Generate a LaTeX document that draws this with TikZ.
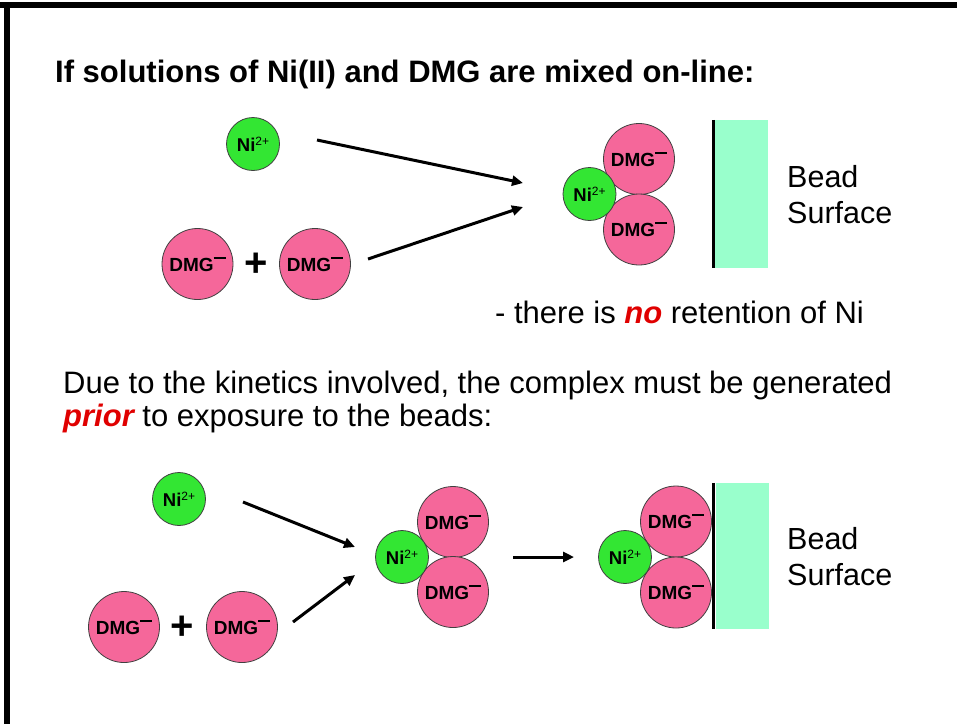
\documentclass[tikz,border=0pt]{standalone}
\usepackage{fontspec}
\setmainfont{Liberation Sans}
\usetikzlibrary{arrows.meta}
\definecolor{nigreen}{HTML}{33E633}
\definecolor{dmgpink}{HTML}{F5679A}
\definecolor{beadcol}{HTML}{99FFCC}
\definecolor{emphred}{HTML}{E00000}
\newcommand{\niLabel}{{\fontsize{18.5}{18}\selectfont\bfseries Ni}{\fontsize{12}{12}\selectfont\raisebox{6pt}{2+}}}
\newcommand{\dmgLabel}{{\fontsize{19}{19}\selectfont\bfseries DMG}\rule[12.5pt]{12pt}{2pt}}
\begin{document}
\begin{tikzpicture}[x=1pt,y=-1pt,
  nibead/.style={circle, fill=nigreen, draw=black!75, line width=0.8pt, minimum size=53pt, inner sep=0pt},
  dmgbead/.style={circle, fill=dmgpink, draw=black!75, line width=0.8pt, minimum size=71pt, inner sep=0pt},
  bodytext/.style={anchor=base west, inner sep=0pt, font=\fontsize{31}{37}\selectfont},
  beadtext/.style={anchor=base west, inner sep=0pt, font=\fontsize{30.5}{36}\selectfont},
  plussign/.style={inner sep=0pt, font=\fontsize{40}{40}\selectfont\bfseries},
  arr/.style={line width=3pt, -{Triangle[length=11pt,width=10pt]}},
  surf/.style={fill=beadcol, draw=none, minimum width=53pt, minimum height=148pt, inner sep=0pt}]
\useasboundingbox (0,0) rectangle (957,724);
\fill[white] (0,0) rectangle (957,724);
\fill[black] (0,2) rectangle (957,8);
\fill[black] (4,2) rectangle (10,724);

% texts
\node[bodytext, font=\fontsize{31}{37}\selectfont\bfseries] (t1) at (55,82) {If solutions of Ni(II) and DMG are mixed on-line:};
\node[bodytext] (t2) at (495,323) {- there is {\color{emphred}\bfseries\itshape no} retention of Ni};
\node[bodytext] (t3) at (63,393) {Due to the kinetics involved, the complex must be generated};
\node[bodytext] (t4) at (63,426) {{\color{emphred}\bfseries\itshape prior} to exposure to the beads:};

% ---------- top scheme ----------
\node[nibead] (niA) at (253,144) {\niLabel};
\node[dmgbead] (dA1) at (197.5,264) {\dmgLabel};
\node[plussign] (pA) at (256,265) {+};
\node[dmgbead] (dA2) at (315,264) {\dmgLabel};

\coordinate (a1s) at (317,140);
\coordinate (a1e) at (523,183);
\coordinate (a2s) at (368,259);
\coordinate (a2e) at (523,207);
\draw[arr] (a1s) -- (a1e);
\draw[arr] (a2s) -- (a2e);

\node[dmgbead] (cA1) at (639,159) {\dmgLabel};
\node[dmgbead] (cA2) at (639,229.5) {\dmgLabel};
\node[nibead] (cAn) at (589.5,194) {\niLabel};

\node[surf] (sA) at (741.5,194) {};
\draw[line width=3pt] ([xshift=-1.5pt]sA.north west) -- ([xshift=-1.5pt]sA.south west);
\node[beadtext] (bA1) at (787,187) {Bead};
\node[beadtext] (bA2) at (787,223) {Surface};

% ---------- bottom scheme ----------
\node[nibead] (niB) at (179,499) {\niLabel};
\node[dmgbead] (dB1) at (124,627) {\dmgLabel};
\node[plussign] (pB) at (182,628) {+};
\node[dmgbead] (dB2) at (242,627) {\dmgLabel};

\coordinate (a3s) at (243,502);
\coordinate (a3e) at (355,547);
\coordinate (a4s) at (293,622);
\coordinate (a4e) at (355,575);
\draw[arr] (a3s) -- (a3e);
\draw[arr] (a4s) -- (a4e);

\node[dmgbead] (cB1) at (453,522) {\dmgLabel};
\node[dmgbead] (cB2) at (453,592) {\dmgLabel};
\node[nibead] (cBn) at (402,557) {\niLabel};

\coordinate (a5s) at (513,557);
\coordinate (a5e) at (574,557);
\draw[arr] (a5s) -- (a5e);

\node[dmgbead] (cC1) at (676,521.5) {\dmgLabel};
\node[dmgbead] (cC2) at (676,592.5) {\dmgLabel};
\node[nibead] (cCn) at (625,557) {\niLabel};

\node[surf, minimum height=146pt] (sB) at (742,556) {};
\draw[line width=3pt] ([xshift=-1.5pt]sB.north west) -- ([xshift=-1.5pt]sB.south west);
\node[beadtext] (bB1) at (787,549) {Bead};
\node[beadtext] (bB2) at (787,585) {Surface};
\end{tikzpicture}
\end{document}
